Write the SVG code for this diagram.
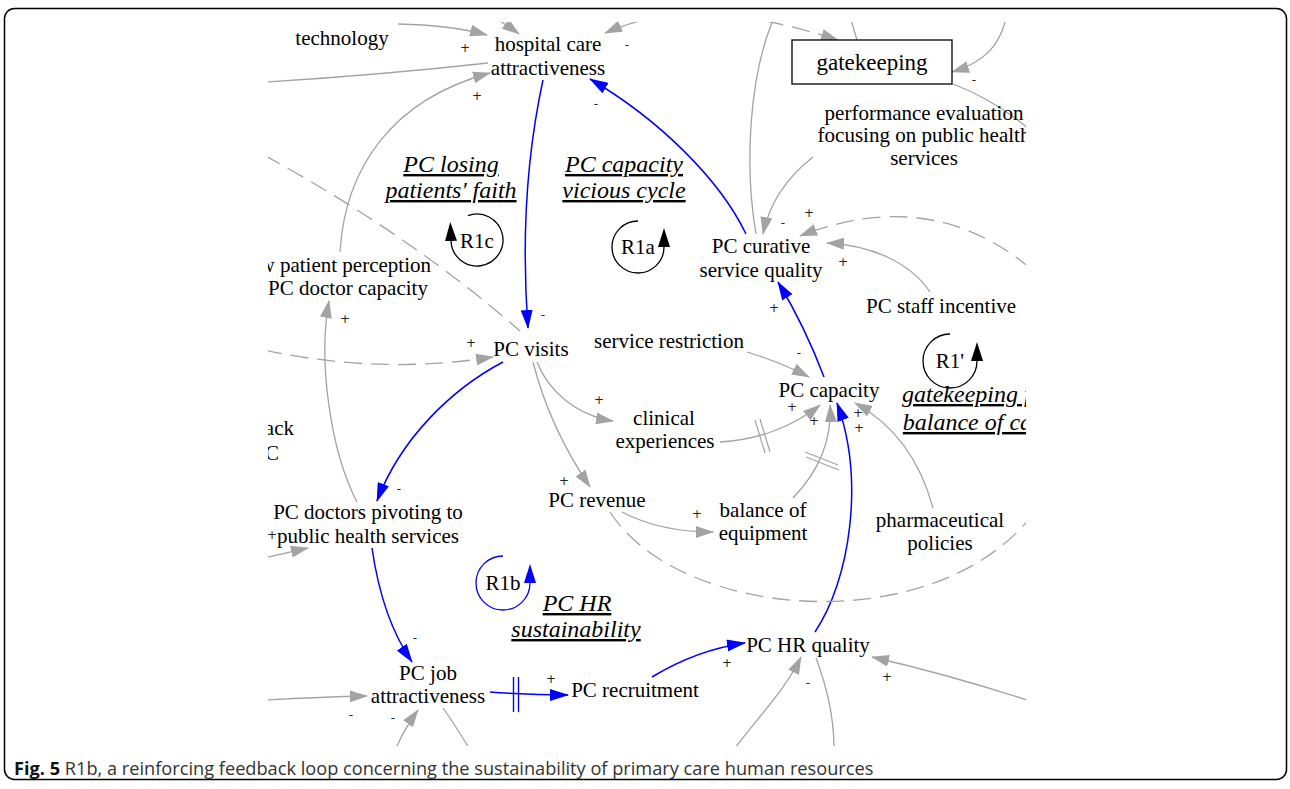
<svg xmlns="http://www.w3.org/2000/svg" width="1290" height="789" viewBox="0 0 1290 789">
<style>
.n{font-family:"Liberation Serif","Times New Roman",serif;font-size:21px;fill:#000;text-anchor:middle}
.t{font-family:"Liberation Serif","Times New Roman",serif;font-size:24px;font-style:italic;text-decoration:underline;fill:#000;text-anchor:middle}
.s{font-family:"DejaVu Sans",Verdana,sans-serif;font-size:12px;fill:#222;text-anchor:middle}
.g{fill:none;stroke:#a3a3a3;stroke-width:1.3}
.d{fill:none;stroke:#a3a3a3;stroke-width:1.3;stroke-dasharray:18 9}
.b{fill:none;stroke:#0000ff;stroke-width:1.5}
.ga{marker-end:url(#ag)}
.ba{marker-end:url(#ab)}
.h{stroke:#a3a3a3;stroke-width:1.2}
.hb{stroke:#0000ff;stroke-width:1.4}
.loop{fill:none;stroke:#000;stroke-width:1.3;marker-end:url(#al)}
.loopb{fill:none;stroke:#0000ff;stroke-width:1.3;marker-end:url(#alb)}
</style>
<defs>
<marker id="ag" markerUnits="userSpaceOnUse" viewBox="0 0 18 12" markerWidth="18" markerHeight="12" refX="17" refY="6" orient="auto"><path d="M0,0 L18,6 L0,12 z" fill="#a3a3a3"/></marker>
<marker id="ab" markerUnits="userSpaceOnUse" viewBox="0 0 19 12" markerWidth="19" markerHeight="12" refX="18" refY="6" orient="auto"><path d="M0,0 L19,6 L0,12 z" fill="#0000ff"/></marker>
<marker id="al" markerUnits="userSpaceOnUse" viewBox="0 0 19 12" markerWidth="19" markerHeight="12" refX="0" refY="6" orient="auto"><path d="M0,0 L19,6 L0,12 z" fill="#000"/></marker>
<marker id="alb" markerUnits="userSpaceOnUse" viewBox="0 0 19 12" markerWidth="19" markerHeight="12" refX="0" refY="6" orient="auto"><path d="M0,0 L19,6 L0,12 z" fill="#0000ff"/></marker>
<clipPath id="clip"><rect x="268" y="22" width="758" height="724"/></clipPath>
</defs>
<rect x="4.5" y="8.5" width="1282" height="771" rx="10" fill="#fff" stroke="#000" stroke-width="1.5"/>
<g clip-path="url(#clip)">
<g id="connectors">
<path class="g ga" d="M398,24 Q450,25 487,35"/>
<path class="g ga" d="M478,8 Q500,20 519,34"/>
<path class="g ga" d="M665,15 Q630,22 605,33"/>
<path class="g" d="M488,63 Q380,75 266,82"/>
<path class="g ga" d="M340,252 C345,170 390,100 490,73"/>
<path class="b ba" d="M543,80 C530,140 520,220 528,328"/>
<path class="b ba" d="M746,234 C720,180 660,120 590,79"/>
<path class="g" d="M773,20 C748,80 745,170 756,234"/>
<path class="d ga" d="M766,21 Q800,28 838,40"/>
<path class="g" d="M851,20 L857,40"/>
<path class="g ga" d="M1006,18 C1000,45 985,62 952,72"/>
<path class="g" d="M953,84 Q995,100 1030,130"/>
<path class="g ga" d="M813,157 C790,175 770,200 763,234"/>
<path class="d ga" d="M1030,268 Q930,185 800,236"/>
<path class="g ga" d="M930,292 C910,262 870,245 827,243"/>
<path class="b ba" d="M824,377 C810,340 795,310 778,282"/>
<path class="g ga" d="M747,352 Q780,362 809,377"/>
<path class="g ga" d="M537,362 C548,390 575,415 613,421"/>
<path class="g ga" d="M533,362 C545,410 565,450 590,487"/>
<path class="b ba" d="M503,362 C450,390 400,440 377,501"/>
<path class="g ga" d="M357,502 C330,450 318,360 329,301"/>
<path class="d ga" d="M264,350 Q380,375 493,357"/>
<path class="d" d="M264,155 Q410,235 520,331"/>
<path class="g ga" d="M264,558 Q290,552 308,548"/>
<path class="b ba" d="M372,548 C378,590 390,630 412,662"/>
<path class="g ga" d="M264,700 Q320,697 367,696"/>
<path class="g ga" d="M396,748 Q405,728 418,710"/>
<path class="g" d="M443,708 Q455,725 469,748"/>
<path class="b ba" d="M490,692 Q530,695 568,695"/>
<path class="b ba" d="M652,677 C680,660 710,648 745,643"/>
<path class="b ba" d="M815,632 C850,580 865,480 837,403"/>
<path class="g ga" d="M793,498 C820,470 832,440 830,405"/>
<path class="g ga" d="M720,442 C760,440 795,425 820,405"/>
<path class="g ga" d="M933,508 C920,460 895,425 855,403"/>
<path class="g ga" d="M622,512 Q660,532 713,532"/>
<path class="d" d="M610,512 C680,620 930,640 1030,518"/>
<path class="g ga" d="M1030,701 Q950,675 872,657"/>
<path class="g ga" d="M735,748 C760,715 785,690 801,657"/>
<path class="g" d="M816,658 C828,690 834,720 834,748"/>
<line class="h" x1="755" y1="420" x2="765" y2="453"/>
<line class="h" x1="760" y1="419" x2="770" y2="452"/>
<line class="h" x1="805" y1="452" x2="838" y2="465"/>
<line class="h" x1="806" y1="457" x2="839" y2="470"/>
<line class="hb" x1="513.5" y1="677" x2="513.5" y2="712"/>
<line class="hb" x1="518.5" y1="677" x2="518.5" y2="712"/>
</g>
<g id="signs">
<text class="s" x="465" y="52">+</text>
<text class="s" x="627" y="49">-</text>
<text class="s" x="477" y="100">+</text>
<text class="s" x="596" y="108">-</text>
<text class="s" x="974" y="84">-</text>
<text class="s" x="809" y="217">+</text>
<text class="s" x="783" y="227">-</text>
<text class="s" x="843" y="266">+</text>
<text class="s" x="774" y="312">+</text>
<text class="s" x="799" y="357">-</text>
<text class="s" x="792" y="411">+</text>
<text class="s" x="814" y="425">+</text>
<text class="s" x="858" y="417">+</text>
<text class="s" x="859" y="432">+</text>
<text class="s" x="599" y="404">+</text>
<text class="s" x="564" y="485">+</text>
<text class="s" x="399" y="493">-</text>
<text class="s" x="697" y="518">+</text>
<text class="s" x="345" y="323">+</text>
<text class="s" x="471" y="347">+</text>
<text class="s" x="543" y="319">-</text>
<text class="s" x="272" y="539">+</text>
<text class="s" x="415" y="642">-</text>
<text class="s" x="551" y="683">+</text>
<text class="s" x="351" y="719">-</text>
<text class="s" x="393" y="722">-</text>
<text class="s" x="727" y="667">+</text>
<text class="s" x="808" y="687">-</text>
<text class="s" x="887" y="681">+</text>
</g>
<g id="technology"><text class="n" x="342" y="45">technology</text></g>
<g id="hospital-care"><text class="n" x="548" y="51">hospital care</text><text class="n" x="548" y="75">attractiveness</text></g>
<g id="gatekeeping"><rect x="792" y="40" width="160" height="44" fill="#fff" stroke="#000" stroke-width="1.3"/><text class="n" x="872" y="70" style="font-size:23px">gatekeeping</text></g>
<g id="performance-evaluation"><text class="n" x="924" y="120">performance evaluation</text><text class="n" x="924" y="142">focusing on public health</text><text class="n" x="924" y="165">services</text></g>
<g id="pc-curative"><text class="n" x="761" y="253">PC curative</text><text class="n" x="761" y="277">service quality</text></g>
<g id="pc-staff-incentive"><text class="n" x="941" y="313">PC staff incentive</text></g>
<g id="service-restriction"><text class="n" x="669" y="348">service restriction</text></g>
<g id="pc-capacity"><text class="n" x="829" y="397">PC capacity</text></g>
<g id="patient-perception"><text class="n" x="431" y="272" style="text-anchor:end">low patient perception</text><text class="n" x="348" y="295">PC doctor capacity</text></g>
<g id="pc-visits"><text class="n" x="531" y="356">PC visits</text></g>
<g id="left-clipped"><text class="n" x="294" y="435" style="text-anchor:end">lack</text><text class="n" x="279" y="460" style="text-anchor:end">PC</text></g>
<g id="clinical-experiences"><text class="n" x="664" y="425">clinical</text><text class="n" x="665" y="448">experiences</text></g>
<g id="pc-revenue"><text class="n" x="597" y="507">PC revenue</text></g>
<g id="balance-of-equipment"><text class="n" x="763" y="517">balance of</text><text class="n" x="763" y="540">equipment</text></g>
<g id="pharmaceutical-policies"><text class="n" x="940" y="527">pharmaceutical</text><text class="n" x="940" y="550">policies</text></g>
<g id="pc-doctors-pivoting"><text class="n" x="368" y="519">PC doctors pivoting to</text><text class="n" x="368" y="543">public health services</text></g>
<g id="pc-job"><text class="n" x="428" y="680">PC job</text><text class="n" x="428" y="703">attractiveness</text></g>
<g id="pc-recruitment"><text class="n" x="635" y="697">PC recruitment</text></g>
<g id="pc-hr-quality"><text class="n" x="808" y="652">PC HR quality</text></g>
<g id="loop-R1c"><path class="loop" d="M468,215.6 A26,26 0 1 1 451,241"/><text class="n" x="477" y="248">R1c</text><text class="t" x="451" y="172">PC losing</text><text class="t" x="451" y="198">patients' faith</text></g>
<g id="loop-R1a"><path class="loop" d="M638,221 A26,26 0 1 0 664,247"/><text class="n" x="638" y="254">R1a</text><text class="t" x="624" y="172">PC capacity</text><text class="t" x="624" y="198">vicious cycle</text></g>
<g id="loop-R1prime"><path class="loop" d="M950,334 A27,27 0 1 0 977,361"/><text class="n" x="950" y="368">R1'</text><text class="t" x="977" y="402">gatekeeping for</text><text class="t" x="977" y="430">balance of care</text></g>
<g id="loop-R1b"><path class="loopb" d="M503,556 A27,27 0 1 0 530,583"/><text class="n" x="503" y="590">R1b</text><text class="t" x="577" y="611">PC HR</text><text class="t" x="576" y="637">sustainability</text></g>
</g>
<text x="14" y="775" font-family="'Open Sans','Noto Sans',sans-serif" font-size="18.2" fill="#333"><tspan font-weight="bold" fill="#111">Fig. 5</tspan> R1b, a reinforcing feedback loop concerning the sustainability of primary care human resources</text>
</svg>
